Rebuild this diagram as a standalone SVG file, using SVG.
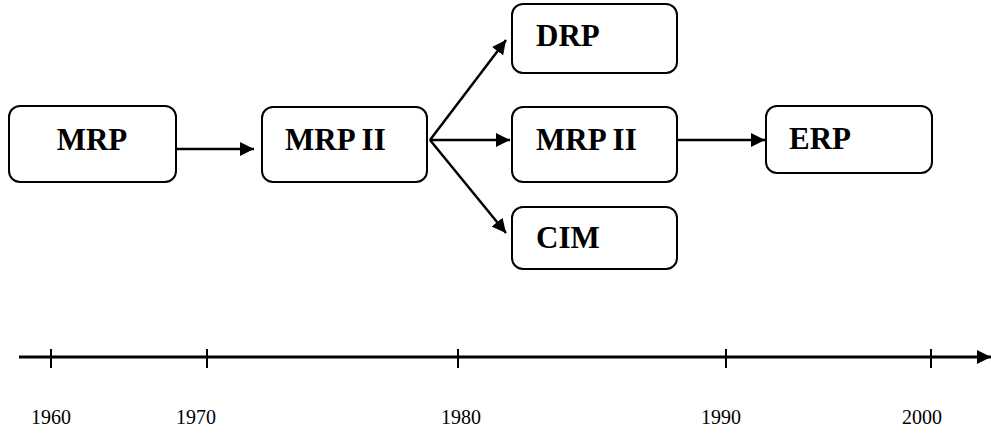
<svg xmlns="http://www.w3.org/2000/svg" width="991" height="435" viewBox="0 0 991 435">
<style>
.box{fill:#fff;stroke:#000;stroke-width:2}
.lbl{font-family:"Liberation Serif","Times New Roman",serif;font-weight:bold;font-size:31px;fill:#000}
.yr{font-family:"Liberation Serif","Times New Roman",serif;font-size:20px;fill:#000}
.ln{stroke:#000;stroke-width:2.5;fill:none}
</style>
<defs>
<marker id="ah" markerUnits="userSpaceOnUse" markerWidth="15" markerHeight="14" refX="14" refY="7" orient="auto">
<path d="M0,0 L14,7 L0,14 z" fill="#000"/>
</marker>
</defs>
<rect width="991" height="435" fill="#fff"/>
<g id="n-mrp"><rect class="box" x="9" y="106" width="167" height="76" rx="11"/><text class="lbl" x="92" y="150" text-anchor="middle">MRP</text></g>
<g id="n-mrp2a"><rect class="box" x="262" y="107" width="165" height="75" rx="11"/><text class="lbl" x="285" y="150">MRP II</text></g>
<g id="n-drp"><rect class="box" x="512" y="4" width="165" height="69" rx="11"/><text class="lbl" x="536" y="46">DRP</text></g>
<g id="n-mrp2b"><rect class="box" x="512" y="107" width="165" height="75" rx="11"/><text class="lbl" x="536" y="150">MRP II</text></g>
<g id="n-cim"><rect class="box" x="512" y="207" width="165" height="62" rx="11"/><text class="lbl" x="536" y="248">CIM</text></g>
<g id="n-erp"><rect class="box" x="766" y="106" width="166" height="67" rx="11"/><text class="lbl" x="789" y="149">ERP</text></g>
<g id="connectors">
<line class="ln" x1="176" y1="149" x2="254" y2="149" marker-end="url(#ah)"/>
<line class="ln" x1="430" y1="140" x2="506" y2="40" marker-end="url(#ah)"/>
<line class="ln" x1="430" y1="140" x2="510" y2="140" marker-end="url(#ah)"/>
<line class="ln" x1="430" y1="140" x2="506" y2="233" marker-end="url(#ah)"/>
<line class="ln" x1="677" y1="140" x2="765" y2="140" marker-end="url(#ah)"/>
</g>
<g id="timeline">
<line x1="19" y1="357" x2="991" y2="357" stroke="#000" stroke-width="3" marker-end="url(#ah)"/>
<g stroke="#000" stroke-width="2">
<line x1="51" y1="349" x2="51" y2="368"/>
<line x1="207" y1="349" x2="207" y2="368"/>
<line x1="458" y1="349" x2="458" y2="368"/>
<line x1="726" y1="349" x2="726" y2="368"/>
<line x1="931" y1="349" x2="931" y2="368"/>
</g>
<text class="yr" x="31" y="424">1960</text>
<text class="yr" x="176" y="424">1970</text>
<text class="yr" x="441" y="424">1980</text>
<text class="yr" x="701" y="424">1990</text>
<text class="yr" x="902" y="424">2000</text>
</g>
</svg>
